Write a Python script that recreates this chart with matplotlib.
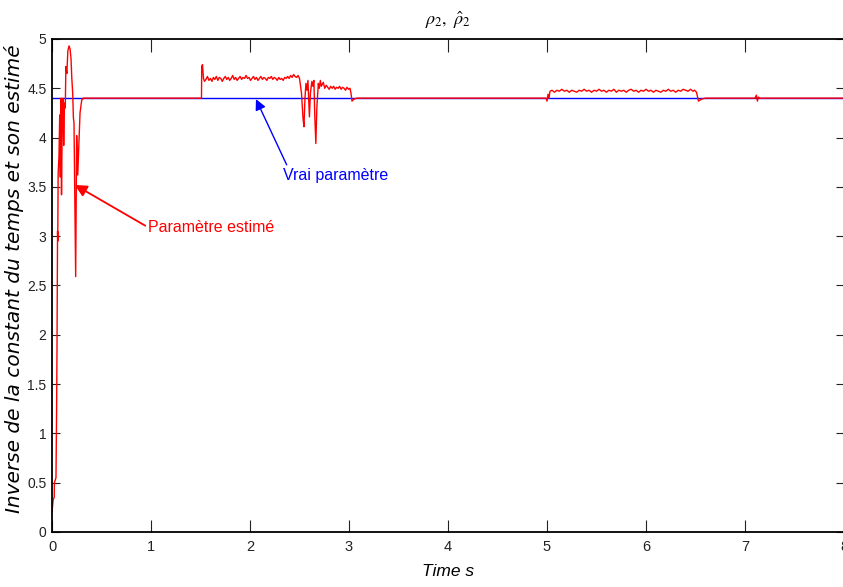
import matplotlib
matplotlib.use("Agg")
import matplotlib.pyplot as plt

# estimated parameter (red)
t_est = [0.000, 0.012, 0.022, 0.024, 0.040, 0.046, 0.050, 0.054, 0.056, 0.058,
         0.062, 0.070, 0.078, 0.084, 0.090, 0.096, 0.104, 0.112, 0.118, 0.126,
         0.134, 0.140, 0.150, 0.160, 0.172, 0.182, 0.192, 0.200, 0.209, 0.216,
         0.222, 0.230, 0.239, 0.244, 0.249, 0.255, 0.260, 0.270, 0.283, 0.300,
         0.316, 1.510, 1.512, 1.520, 1.530,
         1.54, 1.555, 1.57, 1.585, 1.60, 1.615, 1.63, 1.645, 1.66, 1.675, 1.69,
         1.705, 1.72, 1.735, 1.75, 1.765, 1.78, 1.795, 1.81, 1.825, 1.84, 1.855,
         1.87, 1.885, 1.90, 1.915, 1.93, 1.945, 1.96, 1.975, 1.99, 2.005, 2.02,
         2.035, 2.05, 2.065, 2.08, 2.095, 2.11, 2.125, 2.14, 2.155, 2.17, 2.185,
         2.20, 2.215, 2.23, 2.245, 2.26, 2.275, 2.29, 2.305, 2.32, 2.335, 2.35,
         2.365, 2.38, 2.395, 2.41, 2.425, 2.44, 2.455, 2.47, 2.485, 2.50,
         2.520, 2.535, 2.545, 2.555, 2.565, 2.575, 2.585, 2.600, 2.610, 2.625,
         2.635, 2.645, 2.655, 2.665, 2.675, 2.690, 2.700, 2.710, 2.720, 2.740,
         2.755, 2.77, 2.785, 2.80, 2.815, 2.83, 2.845, 2.86, 2.875, 2.89, 2.905,
         2.92, 2.935, 2.95, 2.965, 2.98, 2.995, 3.01, 3.02, 3.03, 3.05, 3.08,
         4.99, 5.00, 5.01, 5.02, 5.03,
         5.05, 5.075, 5.10, 5.125, 5.15, 5.175, 5.20, 5.225, 5.25, 5.275, 5.30,
         5.325, 5.35, 5.375, 5.40, 5.425, 5.45, 5.475, 5.50, 5.525, 5.55, 5.575,
         5.60, 5.625, 5.65, 5.675, 5.70, 5.725, 5.75, 5.775, 5.80, 5.825, 5.85,
         5.875, 5.90, 5.925, 5.95, 5.975, 6.00, 6.025, 6.05, 6.075, 6.10, 6.125,
         6.15, 6.175, 6.20, 6.225, 6.25, 6.275, 6.30, 6.325, 6.35, 6.375, 6.40,
         6.425, 6.45, 6.475, 6.49, 6.51, 6.53, 6.56, 6.60,
         7.10, 7.115, 7.125, 7.135, 7.15, 8.00]
rho_est = [0.20, 0.33, 0.35, 0.50, 0.55, 1.20, 1.80, 2.60, 3.05, 2.95,
           3.64, 3.80, 4.23, 3.60, 4.40, 3.42, 4.25, 4.40, 3.92, 4.35,
           4.30, 4.72, 4.65, 4.88, 4.93, 4.90, 4.80, 4.60, 4.45, 4.20,
           4.15, 3.40, 2.59, 3.30, 4.02, 3.80, 3.62, 3.90, 4.25, 4.38,
           4.40, 4.40, 4.72, 4.74, 4.60,
           4.57, 4.59, 4.62, 4.58, 4.60, 4.57, 4.61, 4.59, 4.62, 4.58, 4.61,
           4.60, 4.57, 4.60, 4.62, 4.59, 4.61, 4.58, 4.60, 4.63, 4.59, 4.61,
           4.58, 4.60, 4.62, 4.59, 4.61, 4.60, 4.63, 4.60, 4.61, 4.58, 4.60,
           4.62, 4.59, 4.61, 4.58, 4.60, 4.62, 4.59, 4.61, 4.60, 4.58, 4.61,
           4.60, 4.62, 4.59, 4.61, 4.60, 4.58, 4.61, 4.59, 4.60, 4.58, 4.61,
           4.60, 4.62, 4.60, 4.63, 4.61, 4.64, 4.62, 4.61, 4.63, 4.60,
           4.45, 4.20, 4.11, 4.40, 4.55, 4.48, 4.58, 4.21, 4.45, 4.57,
           4.52, 4.58, 4.20, 3.94, 4.30, 4.55, 4.50, 4.58, 4.52, 4.56,
           4.50, 4.53, 4.51, 4.49, 4.52, 4.50, 4.52, 4.49, 4.51, 4.50, 4.52,
           4.49, 4.51, 4.50, 4.48, 4.51, 4.49, 4.50, 4.45, 4.37, 4.39, 4.40,
           4.40, 4.37, 4.44, 4.40, 4.47,
           4.48, 4.46, 4.48, 4.47, 4.49, 4.47, 4.48, 4.46, 4.48, 4.47, 4.46,
           4.48, 4.47, 4.49, 4.47, 4.48, 4.46, 4.48, 4.47, 4.49, 4.47, 4.48,
           4.46, 4.48, 4.47, 4.49, 4.46, 4.48, 4.47, 4.48, 4.46, 4.48, 4.49,
           4.47, 4.48, 4.46, 4.48, 4.47, 4.49, 4.47, 4.48, 4.46, 4.48, 4.47,
           4.46, 4.48, 4.47, 4.49, 4.47, 4.48, 4.46, 4.48, 4.47, 4.49, 4.48,
           4.47, 4.49, 4.47, 4.48, 4.46, 4.37, 4.39, 4.40,
           4.40, 4.43, 4.37, 4.41, 4.40, 4.40]

# true parameter (blue)
t_true = [0.0, 8.0]
rho_true = [4.4, 4.4]

x_ticks = [0, 1, 2, 3, 4, 5, 6, 7, 8]
y_ticks = [0, 0.5, 1, 1.5, 2, 2.5, 3, 3.5, 4, 4.5, 5]

plt.rcParams['mathtext.fontset'] = 'stix'
plt.rcParams['font.family'] = 'Liberation Sans'

fig = plt.figure(figsize=(8.43, 5.87), dpi=100)
ax = fig.add_axes([0.0617, 0.0937, 0.9395, 0.8399])

ax.plot(t_true, rho_true, color='#0000ff', lw=1.0)
ax.plot(t_est, rho_est, color='#ff0000', lw=1.0)

ax.set_xlim(0, 8)
ax.set_ylim(0, 5)
ax.set_xticks(x_ticks)
ax.set_yticks(y_ticks)
ax.set_xticklabels([str(v) for v in x_ticks], fontsize=10.5)
ax.set_yticklabels(['%g' % v for v in y_ticks], fontsize=10)
ax.tick_params(axis='x', direction='in', length=9, width=0.8, top=True, pad=6, colors='#222222')
ax.tick_params(axis='y', direction='in', length=6, width=0.8, right=True, pad=4, colors='#222222')
for s in ax.spines.values():
    s.set_linewidth(1.3)

ax.set_title(r'$\rho_2,\ \hat{\rho}_2$', fontsize=13, pad=10)
ax.set_xlabel('Time s', style='italic', fontsize=12.5, labelpad=7)
ax.set_ylabel('Inverse de la constant du temps et son estimé', family='DejaVu Sans',
              style='italic', fontsize=14.5)
ax.yaxis.set_label_coords(-0.035, 0.513)

ax.annotate('Vrai paramètre', xy=(2.06, 4.39), xytext=(2.33, 3.62),
            color='#0000ff', fontsize=11.5, va='center', ha='left',
            arrowprops=dict(arrowstyle='-|>', color='#0000ff', lw=1.0,
                            mutation_scale=16, shrinkA=0, shrinkB=0,
                            relpos=(0.05, 1.0)))
ax.annotate('Paramètre estimé', xy=(0.23, 3.52), xytext=(0.97, 3.09),
            color='#ff0000', fontsize=11.5, va='center', ha='left',
            arrowprops=dict(arrowstyle='-|>', color='#ff0000', lw=1.3,
                            mutation_scale=18, shrinkA=0, shrinkB=0,
                            relpos=(0.0, 0.5)))

fig.savefig('out.png', dpi=100)
